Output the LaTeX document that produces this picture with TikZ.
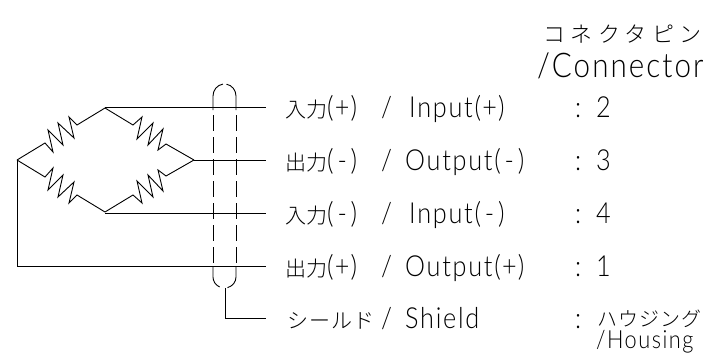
\documentclass[tikz,border=0pt]{standalone}
\usepackage{fontspec}
\usetikzlibrary{positioning}
\newfontfamily\jpfont{Noto Sans CJK JP Light}
\newfontfamily\jpwide{Noto Sans CJK JP Light}[LetterSpace=25]
\newfontfamily\jpnarrow{Noto Sans CJK JP Light}[LetterSpace=5]
\newfontfamily\cadfont{Lato Light}[FakeStretch=0.87,LetterSpace=6]
\newcommand{\signp}{\makebox[17pt][c]{+}}
\newcommand{\signm}{\makebox[17pt][c]{-}}
% text, sign and word of one row: the slash column stands at 381, the word after it
\newcommand{\rowtext}[4]{\makebox[96pt][l]{{\fontsize{21}{21}\jpfont #1}{\fontsize{29}{29}\cadfont (#2)}}{\fontsize{29}{29}\cadfont\makebox[#4][l]{/}#3(#2)}}
\newcommand{\pintext}[1]{\fontsize{29}{29}\cadfont\makebox[21pt][l]{:}#1}
\tikzstyle{wire} = [black, line width=0.9pt, line join=miter]
\tikzstyle{shieldline} = [wire, dash pattern=on 16pt off 6pt]
\tikzstyle{pinlabel} = [anchor=base west, inner sep=0pt]
\begin{document}
\begin{tikzpicture}[x=1pt,y=-1pt]
	\useasboundingbox (0,0) rectangle (703,353);
	% bridge corners
	\coordinate (nleft) at (17,160);
	\coordinate (ntop) at (105,108);
	\coordinate (nright) at (194,160);
	\coordinate (nbot) at (105,212);
	% wire ends
	\coordinate (ein) at (266,107);
	\coordinate (eoutm) at (266,160);
	\coordinate (einm) at (266,213);
	\coordinate (eoutp) at (266,266);
	\coordinate (eshield) at (266,318);
	\coordinate (shbot) at (225,288);
	% resistors
	\draw[wire] (nleft) -- (45,143) -- (53,152) -- (48,130) -- (63,145) -- (58,123) -- (74,138) -- (69,117) -- (77,125) -- (ntop);
	\draw[wire] (ntop) -- (133,125) -- (142,117) -- (137,139) -- (153,123) -- (148,145) -- (163,129) -- (158,150) -- (166,144) -- (nright);
	\draw[wire] (nleft) -- (45,177) -- (53,168) -- (48,190) -- (63,175) -- (58,197) -- (74,182) -- (69,203) -- (77,195) -- (nbot);
	\draw[wire] (nbot) -- (133,195) -- (142,203) -- (137,181) -- (153,197) -- (148,175) -- (163,191) -- (158,170) -- (166,176) -- (nright);
	% leads
	\draw[wire] (ntop |- ein) -- (ein);
	\draw[wire] (nright) -- (eoutm);
	\draw[wire] (nbot |- einm) -- (einm);
	\draw[wire] (nleft) -- (nleft |- eoutp) -- (eoutp);
	\draw[wire] (shbot) -- (shbot |- eshield) -- (eshield);
	% shield
	\draw[wire] (213,110) -- (213,96) arc[start angle=180,end angle=262,x radius=11.5,y radius=12];
	\draw[wire] (236,110) -- (236,96) arc[start angle=360,end angle=280,x radius=11.5,y radius=12];
	\draw[wire] (213,266) -- (213,277) arc[start angle=180,end angle=115,x radius=11.5,y radius=11];
	\draw[wire] (236,266) -- (236,277) arc[start angle=0,end angle=75,x radius=11.5,y radius=11];
	\draw[shieldline] (213,115) -- (213,266);
	\draw[shieldline] (236,115) -- (236,266);
	% labels
	\node[pinlabel] (lhead) at (543,43) {\fontsize{22}{22}\jpwide コネクタピン};
	\node[pinlabel] (lconn) at (537,77) {\fontsize{34}{34}\cadfont /Connector};
	\node[pinlabel] (lina) at (285,117) {\rowtext{入力}{\signp}{Input}{28pt}};
	\node[pinlabel] (louta) at (285,170) {\rowtext{出力}{\signm}{Output}{24pt}};
	\node[pinlabel] (linb) at (285,223) {\rowtext{入力}{\signm}{Input}{28pt}};
	\node[pinlabel] (loutb) at (285,276) {\rowtext{出力}{\signp}{Output}{24pt}};
	\node[pinlabel] (lshield) at (287,328) {\makebox[94pt][l]{\fontsize{21}{21}\jpnarrow シールド}{\fontsize{29}{29}\cadfont\makebox[24pt][l]{/}Shield}};
	\node[pinlabel] (pa) at (575,117) {\pintext{2}};
	\node[pinlabel] (pb) at (575,170) {\pintext{3}};
	\node[pinlabel] (pc) at (575,223) {\pintext{4}};
	\node[pinlabel] (pd) at (575,276) {\pintext{1}};
	\node[pinlabel] (pe) at (575,328) {\pintext{}};
	\node[pinlabel] (phous) at (597,326) {\fontsize{20}{20}\jpnarrow ハウジング};
	\node[pinlabel] (lhous) at (596,348) {\fontsize{25}{25}\cadfont /Housing};
\end{tikzpicture}
\end{document}
